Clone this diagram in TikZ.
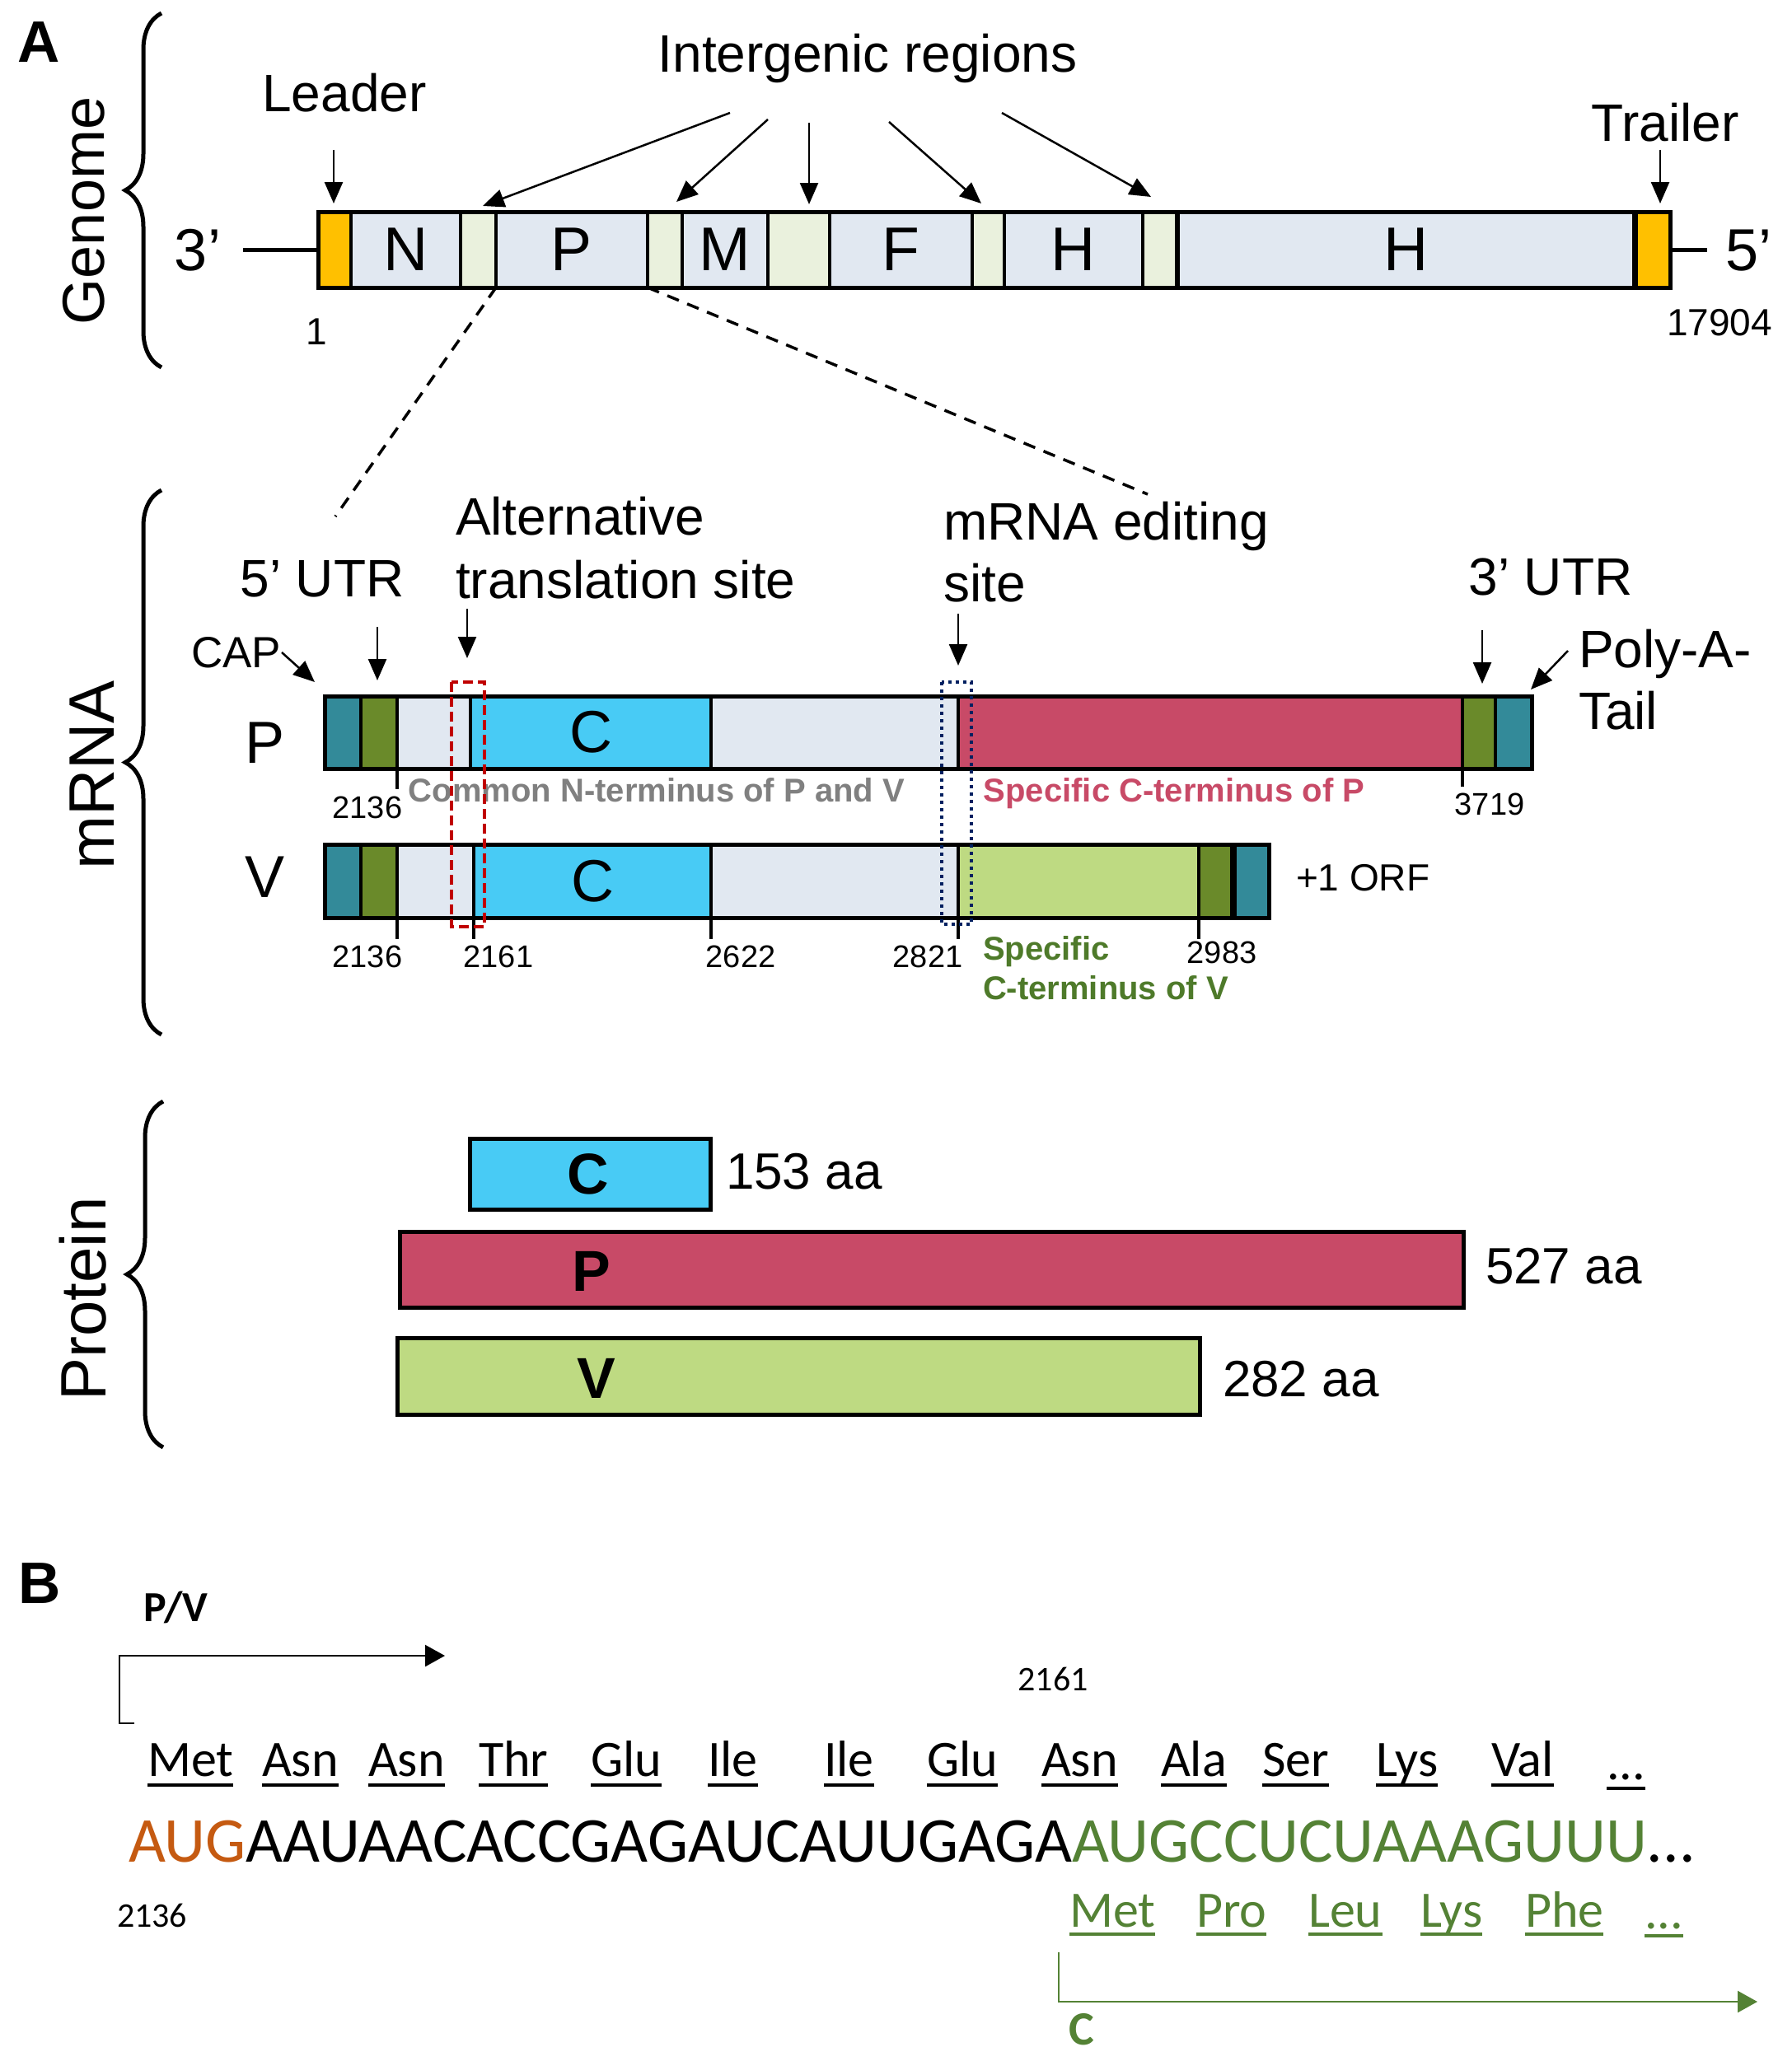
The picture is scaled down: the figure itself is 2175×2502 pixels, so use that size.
\documentclass[tikz,border=0pt]{standalone}
\usepackage{fontspec}
\setmainfont{Liberation Sans}
\newfontfamily\calfont{Carlito}
\usetikzlibrary{arrows.meta,decorations.pathreplacing,calc}
\definecolor{cldr}{HTML}{FFC000}
\definecolor{clb}{HTML}{E1E8F1}
\definecolor{clg}{HTML}{EAF1DD}
\definecolor{cteal}{HTML}{338A99}
\definecolor{colive}{HTML}{6A8A2A}
\definecolor{ccyan}{HTML}{48CBF5}
\definecolor{cpred}{HTML}{C84A67}
\definecolor{cvgr}{HTML}{BEDA82}
\definecolor{cgray}{HTML}{808080}
\definecolor{ctxtgreen}{HTML}{4E7A2A}
\definecolor{cdred}{HTML}{C00000}
\definecolor{cnavy}{HTML}{002060}
\definecolor{corange}{HTML}{C55A11}
\definecolor{cseqgreen}{HTML}{548235}
\newcommand\fsz[1]{\fontsize{#1}{#1}\selectfont}
\newcommand\gseg[7]{\node[segbox, fill=#6, minimum width={(#3)-(#2)}, minimum height={(#5)-(#4)}] (#1) at ({((#2)+(#3))/2},{((#4)+(#5))/2}) {#7};}
\tikzset{
  segbox/.style={draw, line width=3.5pt, inner sep=0pt, outer sep=0pt, rectangle},
  lbl/.style={inner sep=0pt, outer sep=0pt},
  arr/.style={line width=2.5pt, -{Triangle[length=26pt,width=22pt]}},
  tick/.style={line width=4pt},
  brc/.style={decorate, decoration={brace, amplitude=44pt}, line width=5pt},
  dash line/.style={line width=3.5pt, dash pattern=on 15pt off 11pt},
  aat/.style={lbl, font=\calfont\fsz{62}},
  ul/.style={line width=4.5pt},
  barr/.style={line width=2.5pt, -{Triangle[length=24pt,width=26pt]}},
}
\begin{document}
\begin{tikzpicture}[x=1pt,y=-1pt]
\useasboundingbox (0,0) rectangle (2175,2502);
\fill[white] (0,0) rectangle (2175,2502);

% ===== Panel A : genome =====
\node[lbl, anchor=base, font=\fsz{71}\bfseries] (labA) at (47,76) {A};
\draw[brc] (196,446) -- (196,16);
\node[lbl, rotate=90, anchor=base, font=\fsz{72}] (genome) at (126,256) {Genome};

\begin{scope}[font=\fsz{75}]
\gseg{lead}{386}{426}{257}{349}{cldr}{}
\gseg{gN}{426}{559}{257}{349}{clb}{N}
\gseg{ig1}{559}{602}{257}{349}{clg}{}
\gseg{gP}{602}{786}{257}{349}{clb}{P}
\gseg{ig2}{786}{828}{257}{349}{clg}{}
\gseg{gM}{828}{932}{257}{349}{clb}{M}
\gseg{ig3}{932}{1007}{257}{349}{clg}{}
\gseg{gF}{1007}{1180}{257}{349}{clb}{F}
\gseg{ig4}{1180}{1219}{257}{349}{clg}{}
\gseg{gH1}{1219}{1387}{257}{349}{clb}{H}
\gseg{ig5}{1387}{1429}{257}{349}{clg}{}
\gseg{gH2}{1429}{1984}{257}{349}{clb}{H}
\gseg{trail}{1984}{2027}{257}{349}{cldr}{}
\end{scope}
\draw[line width=6pt] (ig5.north east) -- (ig5.south east);
\draw[line width=7pt] (gH2.north east) -- (gH2.south east);
\draw[line width=5pt] (lead.north west) rectangle (trail.south east);

\coordinate (c3) at (295,303);
\coordinate (c5) at (2072,303);
\draw[line width=5pt] (c3) -- (lead.west);
\draw[line width=5pt] (trail.east) -- (c5);
\node[lbl, anchor=base, font=\fsz{72}] (t3) at (240,328) {3'};
\node[lbl, anchor=base, font=\fsz{72}] (t5) at (2122,328) {5'};
\node[lbl, anchor=base, font=\fsz{46}] (n1) at (384,418) {1};
\node[lbl, anchor=base, font=\fsz{46}] (n17904) at (2087,407) {17904};

\node[lbl, anchor=base, font=\fsz{64}] (leader) at (418,136) {Leader};
\node[lbl, anchor=base, font=\fsz{64}] (trailer) at (2021,172) {Trailer};
\node[lbl, anchor=base, font=\fsz{64}] (intergenic) at (1053,88) {Intergenic regions};

\coordinate (la0) at (405,182); \coordinate (la1) at (405,247);
\coordinate (ta0) at (2015,182); \coordinate (ta1) at (2015,247);
\draw[arr] (la0) -- (la1);
\draw[arr] (ta0) -- (ta1);
\coordinate (i1a) at (886,137); \coordinate (i1b) at (586,250);
\coordinate (i2a) at (932,145); \coordinate (i2b) at (821,245);
\coordinate (i3a) at (982,149); \coordinate (i3b) at (982,248);
\coordinate (i4a) at (1079,148); \coordinate (i4b) at (1191,247);
\coordinate (i5a) at (1216,137); \coordinate (i5b) at (1397,239);
\draw[arr] (i1a) -- (i1b);
\draw[arr] (i2a) -- (i2b);
\draw[arr] (i3a) -- (i3b);
\draw[arr] (i4a) -- (i4b);
\draw[arr] (i5a) -- (i5b);

\coordinate (d1) at (407,627);
\coordinate (d2) at (1393,600);
\draw[dash line] (ig1.south east) -- (d1);
\draw[dash line] (gP.south east) -- (d2);

% ===== mRNA =====
\draw[brc] (196,1256) -- (196,595);
\node[lbl, rotate=90, anchor=base, font=\fsz{78}] (mrna) at (138,941) {mRNA};

\begin{scope}[font=\fsz{72}]
\gseg{pT1}{394}{438}{845}{933}{cteal}{}
\gseg{pO1}{438}{482}{845}{933}{colive}{}
\gseg{pL1}{482}{571}{845}{933}{clb}{}
\gseg{pC}{571}{863}{845}{933}{ccyan}{C}
\gseg{pL2}{863}{1163}{845}{933}{clb}{}
\gseg{pP}{1163}{1775}{845}{933}{cpred}{}
\gseg{pO2}{1775}{1815}{845}{933}{colive}{}
\gseg{pT2}{1815}{1859}{845}{933}{cteal}{}
\gseg{vT1}{394}{438}{1025}{1114}{cteal}{}
\gseg{vO1}{438}{482}{1025}{1114}{colive}{}
\gseg{vL1}{482}{575}{1025}{1114}{clb}{}
\gseg{vC}{575}{863}{1025}{1114}{ccyan}{C}
\gseg{vL2}{863}{1163}{1025}{1114}{clb}{}
\gseg{vG}{1163}{1455}{1025}{1114}{cvgr}{}
\gseg{vO2}{1455}{1497}{1025}{1114}{colive}{}
\gseg{vT2}{1497}{1540}{1025}{1114}{cteal}{}
\end{scope}
\draw[line width=5pt] (pT1.north west) rectangle (pT2.south east);
\draw[line width=8pt] (vO2.north east) -- (vO2.south east);
\draw[line width=5pt] (vT1.north west) rectangle (vT2.south east);

\node[lbl, anchor=base, font=\fsz{72}] (rowP) at (322,926) {P};
\node[lbl, anchor=base, font=\fsz{72}] (rowV) at (322,1089) {V};

% ticks
\draw[tick] (pO1.south east) -- ++(0,25);
\draw[tick] (pP.south east) -- ++(0,22);
\draw[tick] (vO1.south east) -- ++(0,26);
\draw[tick] (vL1.south east) -- ++(0,26);
\draw[tick] (vC.south east) -- ++(0,26);
\draw[tick] (vL2.south east) -- ++(0,26);
\draw[tick] (vG.south east) -- ++(0,26);

\begin{scope}[font=\fsz{38}]
\node[lbl, anchor=base] (np2136) at (446,993) {2136};
\node[lbl, anchor=base] (np3719) at (1808,989) {3719};
\node[lbl, anchor=base] (nv2136) at (446,1174) {2136};
\node[lbl, anchor=base] (nv2161) at (605,1174) {2161};
\node[lbl, anchor=base] (nv2622) at (899,1174) {2622};
\node[lbl, anchor=base] (nv2821) at (1126,1174) {2821};
\node[lbl, anchor=base] (nv2983) at (1483,1169) {2983};
\end{scope}

\begin{scope}[font=\fsz{40}\bfseries]
\node[lbl, anchor=base, text=cgray] (common) at (797,973) {Common N-terminus of P and V};
\node[lbl, anchor=base, text=cpred] (specP) at (1425,973) {Specific C-terminus of P};
\node[lbl, anchor=base west, text=ctxtgreen] (specV1) at (1193,1165) {Specific};
\node[lbl, anchor=base west, text=ctxtgreen] (specV2) at (1193,1213) {C-terminus of V};
\end{scope}
\node[lbl, anchor=base west, font=\fsz{46}] (orf) at (1573,1081) {+1 ORF};

\draw[cdred, line width=4pt, dash pattern=on 12pt off 6pt] (548,828) rectangle (588,1125);
\draw[cnavy, line width=4pt, dash pattern=on 4pt off 5pt] (1143,828) rectangle (1179,1122);

\begin{scope}[font=\fsz{64}]
\node[lbl, anchor=base] (utr5) at (391,724) {5' UTR};
\node[lbl, anchor=base] (utr3) at (1882,722) {3' UTR};
\node[lbl, anchor=base west] (alt1) at (553,649) {Alternative};
\node[lbl, anchor=base west] (alt2) at (553,726) {translation site};
\node[lbl, anchor=base west] (ed1) at (1145,655) {mRNA editing};
\node[lbl, anchor=base west] (ed2) at (1145,730) {site};
\node[lbl, anchor=base west] (poly1) at (1916,810) {Poly-A-};
\node[lbl, anchor=base west] (poly2) at (1916,885) {Tail};
\end{scope}
\node[lbl, anchor=base west, font=\fsz{53}] (cap) at (232,810) {CAP};

\coordinate (ca0) at (342,792); \coordinate (ca1) at (382,828);
\coordinate (u5a) at (458,761); \coordinate (u5b) at (458,826);
\coordinate (ala) at (567,739); \coordinate (alb) at (567,799);
\coordinate (eda) at (1163,745); \coordinate (edb) at (1163,808);
\coordinate (u3a) at (1799,765); \coordinate (u3b) at (1799,830);
\coordinate (pla) at (1903,790); \coordinate (plb) at (1858,837);
\draw[arr] (ca0) -- (ca1);
\draw[arr] (u5a) -- (u5b);
\draw[arr] (ala) -- (alb);
\draw[arr] (eda) -- (edb);
\draw[arr] (u3a) -- (u3b);
\draw[arr] (pla) -- (plb);

% ===== Protein =====
\draw[brc] (198,1757) -- (198,1337);
\node[lbl, rotate=90, anchor=base, font=\fsz{78}] (protein) at (128,1577) {Protein};
\begin{scope}[segbox/.append style={line width=5pt}]
\gseg{prC}{570}{862}{1382}{1468}{ccyan}{}
\gseg{prP}{485}{1776}{1495}{1587}{cpred}{}
\gseg{prV}{482}{1456}{1624}{1717}{cvgr}{}
\end{scope}
\begin{scope}[font=\fsz{70}\bfseries]
\node[lbl] (prCt) at (714,1425) {C};
\node[lbl] (prPt) at (718,1543) {P};
\node[lbl] (prVt) at (724,1673) {V};
\end{scope}
\begin{scope}[font=\fsz{62}]
\node[lbl, anchor=base west] (aaC) at (881,1443) {153 aa};
\node[lbl, anchor=base west] (aaP) at (1803,1558) {527 aa};
\node[lbl, anchor=base west] (aaV) at (1484,1695) {282 aa};
\end{scope}

% ===== Panel B =====
\node[lbl, anchor=base, font=\fsz{71}\bfseries] (labB) at (48,1946) {B};
\node[lbl, anchor=base west, font=\calfont\bfseries\fsz{52}] (pv) at (174,1968) {P/V};
\coordinate (ba0) at (163,2092);
\coordinate (ba1) at (145,2092);
\coordinate (ba2) at (145,2010);
\coordinate (ba3) at (540,2010);
\draw[barr] (ba0) -- (ba1) -- (ba2) -- (ba3);

\foreach \xx/\tx/\nm in {179/Met/a1, 318/Asn/a2, 447/Asn/a3, 581/Thr/a4, 717/Glu/a5, 859/Ile/a6, 1000/Ile/a7, 1125/Glu/a8, 1264/Asn/a9, 1409/Ala/a10, 1532/Ser/a11, 1670/Lys/a12, 1810/Val/a13}{
  \node[aat, anchor=base west] (\nm) at (\xx,2156) {\tx};
  \draw[ul] ($(\nm.base west)+(0,11)$) -- ($(\nm.base east)+(0,11)$);
}
\node[aat, anchor=base west] (a14) at (1950,2160) {...};
\draw[ul] ($(a14.base west)+(0,11)$) -- ($(a14.base east)+(0,11)$);

\node[lbl, anchor=base west, font=\calfont\fsz{77.7}] (seq) at (156,2260) {\textcolor{corange}{AUG}AAUAACACCGAGAUCAUUGAGA\textcolor{cseqgreen}{AUGCCUCUAAAGUUU}...};
\node[lbl, anchor=base west, font=\calfont\fsz{42}] (s2136) at (142,2339) {2136};
\node[lbl, anchor=base, font=\calfont\fsz{42}] (s2161) at (1278,2052) {2161};

\foreach \xx/\tx/\nm in {1298/Met/g1, 1452/Pro/g2, 1588/Leu/g3, 1724/Lys/g4, 1851/Phe/g5}{
  \node[aat, anchor=base west, text=cseqgreen] (\nm) at (\xx,2339) {\tx};
  \draw[ul, cseqgreen] ($(\nm.base west)+(0,9)$) -- ($(\nm.base east)+(0,9)$);
}
\node[aat, anchor=base west, text=cseqgreen] (g6) at (1996,2341) {...};
\draw[ul, cseqgreen] ($(g6.base west)+(0,9)$) -- ($(g6.base east)+(0,9)$);

\coordinate (ga0) at (1285,2370);
\coordinate (ga1) at (1285,2430);
\coordinate (ga2) at (2133,2430);
\draw[barr, cseqgreen] (ga0) -- (ga1) -- (ga2);
\node[lbl, anchor=base, font=\calfont\bfseries\fsz{58}, text=cseqgreen] (gC) at (1313,2482) {C};
\end{tikzpicture}
\end{document}
